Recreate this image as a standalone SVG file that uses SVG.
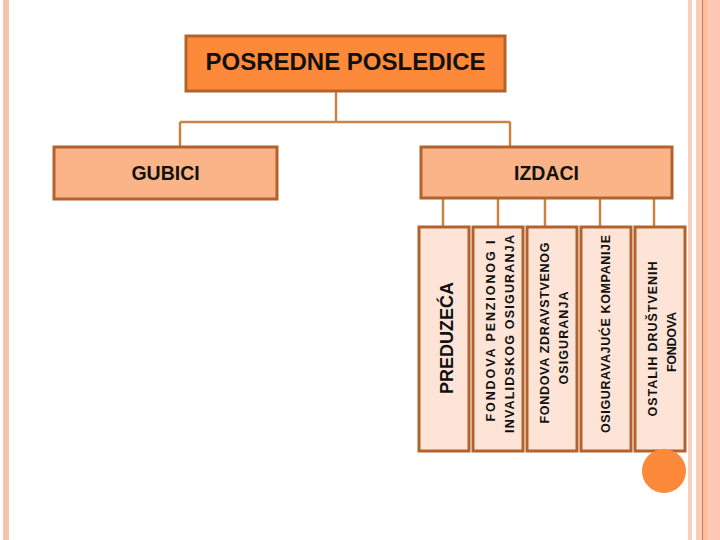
<svg xmlns="http://www.w3.org/2000/svg" width="720" height="540" viewBox="0 0 720 540">
<style>
.bx{stroke:#B3622C;stroke-width:3}
.top{fill:#FD8A3A}
.mid{fill:#FBB487}
.leaf{fill:#FDE4D6}
.cn{stroke:#C98443;stroke-width:2.5;fill:none}
text{font-family:"Liberation Sans",Arial,sans-serif;font-weight:bold;fill:#111}
.vt{font-size:12.5px;text-anchor:middle}
</style>
<rect width="720" height="540" fill="#fff"/>
<g id="frame">
<rect x="3" y="0" width="6" height="540" fill="#F7C5AE"/>
<rect x="688" y="0" width="4" height="540" fill="#F9D0BE"/>
<rect x="696" y="0" width="6" height="540" fill="#FBCDB8"/>
<rect x="702" y="0" width="1.5" height="540" fill="#C87E55"/>
<rect x="703.5" y="0" width="5" height="540" fill="#FDBF9F"/>
<rect x="708.5" y="0" width="11.5" height="540" fill="#FFC8B4"/>
</g>
<g id="connectors">
<path class="cn" d="M336 91V122M180 122H510M180 122V147M510 122V147"/>
<path class="cn" d="M443 198V227M498 198V227M545 198V227M600 198V227M654 198V227"/>
</g>
<g id="n-root">
<rect class="bx top" x="186" y="36" width="319" height="55"/>
<text x="345.5" y="70" font-size="24" text-anchor="middle">POSREDNE POSLEDICE</text>
</g>
<g id="n-gubici">
<rect class="bx mid" x="54" y="147" width="223" height="52"/>
<text x="165.5" y="180" font-size="19.5" text-anchor="middle">GUBICI</text>
</g>
<g id="n-izdaci">
<rect class="bx mid" x="421" y="147" width="251" height="51"/>
<text x="546.5" y="180" font-size="19.5" text-anchor="middle">IZDACI</text>
</g>
<g id="n-preduzeca">
<rect class="bx leaf" x="419" y="227" width="50" height="224"/>
<text transform="translate(453 338) rotate(-90)" font-size="18" text-anchor="middle">PREDUZEĆA</text>
</g>
<g id="n-penzionog">
<rect class="bx leaf" x="473" y="227" width="50" height="224"/>
<text class="vt" transform="translate(495 331) rotate(-90)" textLength="181" lengthAdjust="spacing">FONDOVA PENZIONOG I</text>
<text class="vt" transform="translate(514 334) rotate(-90)" textLength="198" lengthAdjust="spacing">INVALIDSKOG OSIGURANJA</text>
</g>
<g id="n-zdravstvenog">
<rect class="bx leaf" x="527" y="227" width="50" height="224"/>
<text class="vt" transform="translate(549 333) rotate(-90)" textLength="181" lengthAdjust="spacing">FONDOVA ZDRAVSTVENOG</text>
<text class="vt" transform="translate(568 338) rotate(-90)" textLength="93" lengthAdjust="spacing">OSIGURANJA</text>
</g>
<g id="n-osiguravajuce">
<rect class="bx leaf" x="581" y="227" width="50" height="224"/>
<text class="vt" transform="translate(610 334) rotate(-90)" textLength="198" lengthAdjust="spacing">OSIGURAVAJUĆE KOMPANIJE</text>
</g>
<g id="n-ostalih">
<rect class="bx leaf" x="635" y="227" width="50" height="224"/>
<text class="vt" transform="translate(657 339) rotate(-90)" textLength="155" lengthAdjust="spacing">OSTALIH DRUŠTVENIH</text>
<text class="vt" transform="translate(676 342) rotate(-90)" textLength="60" lengthAdjust="spacing">FONDOVA</text>
</g>
<circle cx="664" cy="471" r="22" fill="#FD8A3A"/>
</svg>
